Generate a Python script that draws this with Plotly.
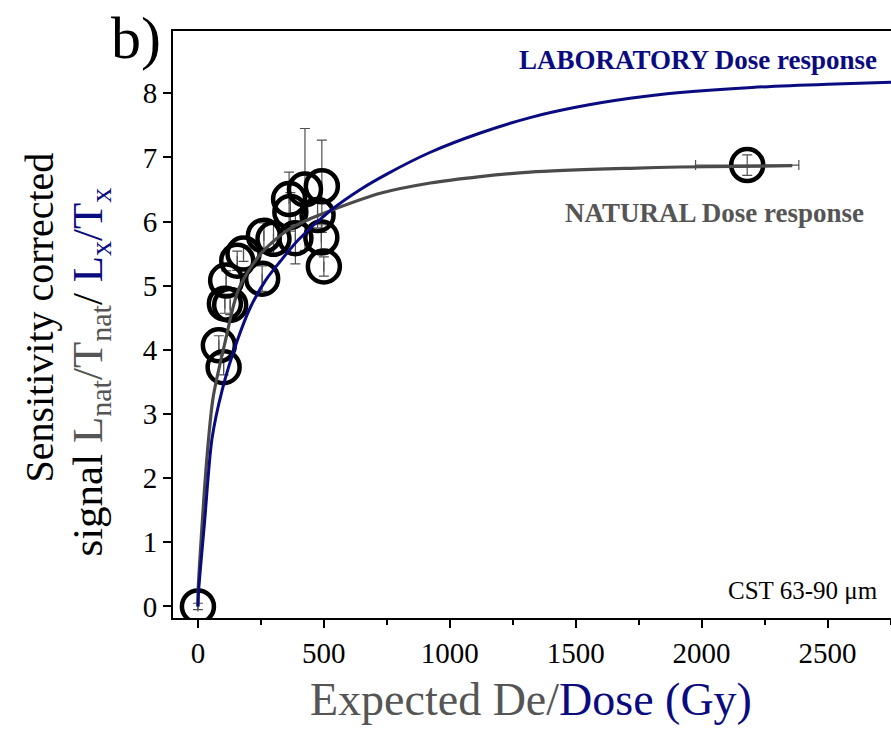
import plotly.graph_objects as go

nat_dose = [0, 83, 102, 107, 128, 112, 156, 181, 255, 262, 300, 367, 362, 425, 387, 475, 492, 490, 500, 2181]
nat_signal = [0.0, 4.07, 3.73, 4.72, 4.70, 5.08, 5.39, 5.50, 5.11, 5.78, 5.73, 6.15, 6.35, 6.50, 5.74, 6.10, 6.55, 5.75, 5.30, 6.88]
nat_err = [0.05, 0.15, 0.12, 0.15, 0.15, 0.15, 0.15, 0.12, 0.20, 0.20, 0.25, 0.30, 0.42, 0.95, 0.40, 0.20, 0.72, 0.20, 0.15, 0.16]
nat_xerr = [0, 0, 0, 0, 0, 0, 0, 0, 0, 0, 0, 0, 0, 0, 0, 0, 0, 0, 0, 205]

# NATURAL dose response fitted curve (grey)
natfit_dose = [0, 1, 17, 36, 60, 109, 162, 250, 354, 450, 526, 724, 923, 1121, 1319, 1716, 1915, 2360]
natfit_signal = [0.0, 0.26, 1.30, 2.33, 3.25, 4.14, 4.95, 5.50, 5.86, 6.05, 6.17, 6.44, 6.60, 6.70, 6.77, 6.83, 6.85, 6.87]

# LABORATORY dose response fitted curve (blue)
lab_dose = [0, 3, 26, 56, 96, 156, 208, 268, 327, 400, 526, 645, 750, 923, 1121, 1319, 1500, 1716, 1915, 2200, 2500, 2752]
lab_signal = [0.0, 0.26, 1.30, 2.62, 3.37, 4.14, 4.66, 5.08, 5.38, 5.72, 6.17, 6.50, 6.74, 7.08, 7.38, 7.62, 7.78, 7.92, 8.01, 8.09, 8.14, 8.17]

x_ticks = [0, 500, 1000, 1500, 2000, 2500]
y_ticks = [0, 1, 2, 3, 4, 5, 6, 7, 8]

GREY = "#4a4a4a"
NAVY = "#0b0b80"
FONT = "Liberation Serif, Times New Roman, serif"

fig = go.Figure()

fig.add_trace(go.Scatter(
    x=nat_dose, y=nat_signal, mode="markers",
    marker=dict(symbol="circle-open", size=32, color="black", line=dict(width=4.5, color="black")),
    error_y=dict(type="data", array=nat_err, visible=True, color="#505050", thickness=1.2, width=5),
    error_x=dict(type="data", array=nat_xerr, visible=True, color="#505050", thickness=1.2, width=5),
    showlegend=False,
))

fig.add_trace(go.Scatter(
    x=natfit_dose, y=natfit_signal, mode="lines",
    line=dict(color=GREY, width=3.2, shape="spline", smoothing=0.8),
    showlegend=False,
))

fig.add_trace(go.Scatter(
    x=lab_dose, y=lab_signal, mode="lines",
    line=dict(color=NAVY, width=3, shape="spline", smoothing=0.8),
    showlegend=False,
))

fig.update_layout(
    width=891, height=737,
    margin=dict(l=172.5, r=0, t=31, b=119),
    paper_bgcolor="white", plot_bgcolor="white",
    font=dict(family=FONT, color="black"),
    xaxis=dict(
        range=[-99, 2752], tickvals=x_ticks, ticktext=[str(v) for v in x_ticks],
        ticks="outside", ticklen=8, tickwidth=1.5, tickcolor="black",
        showline=True, linecolor="black", linewidth=2, mirror=True,
        showgrid=False, zeroline=False,
        tickfont=dict(family=FONT, size=29, color="black"),
        minor=dict(tickvals=[250, 750, 1250, 1750, 2250, 2750], ticks="outside", ticklen=5, tickwidth=1.5, tickcolor="black"),
    ),
    yaxis=dict(
        range=[-0.18, 8.97], tickvals=y_ticks, ticktext=[str(v) for v in y_ticks],
        ticks="outside", ticklen=8, tickwidth=1.5, tickcolor="black",
        showline=True, linecolor="black", linewidth=2, mirror=False,
        showgrid=False, zeroline=False,
        tickfont=dict(family=FONT, size=29, color="black"),
    ),
)

ann = [
    dict(text="b)", x=135, y=38, font=dict(size=60, color="black", family=FONT)),
    dict(text="<b>LABORATORY Dose response</b>", x=879, y=60, xanchor="right", font=dict(size=27, color=NAVY, family=FONT)),
    dict(text="<b>NATURAL Dose response</b>", x=866, y=213, xanchor="right", font=dict(size=27, color="#555555", family=FONT)),
    dict(text="CST 63-90 \u03bcm", x=880, y=590, xanchor="right", font=dict(size=25, color="black", family=FONT)),
    dict(text="<span style='color:#555555'>Expected De/</span><span style='color:%s'>Dose (Gy)</span>" % NAVY,
         x=531, y=700, font=dict(size=46, family=FONT)),
    dict(text="Sensitivity corrected", x=38, y=318, textangle=-90, font=dict(size=40, color="black", family=FONT)),
    dict(text="signal <span style='color:#555555'>L<sub>nat</sub>/T<sub>nat</sub></span>/ <span style='color:%s'>L<sub>x</sub>/T<sub>x</sub></span>" % NAVY,
         x=90, y=372, textangle=-90, font=dict(size=43, color="black", family=FONT)),
]

for a in ann:
    fig.add_annotation(
        text=a["text"], showarrow=False,
        xref="paper", yref="paper",
        x=(a["x"] - 172.5) / (891 - 172.5),
        y=(618 - a["y"]) / (618 - 31),
        xanchor=a.get("xanchor", "center"), yanchor="middle",
        textangle=a.get("textangle", 0),
        font=a["font"],
    )

fig.write_html("out.html")
